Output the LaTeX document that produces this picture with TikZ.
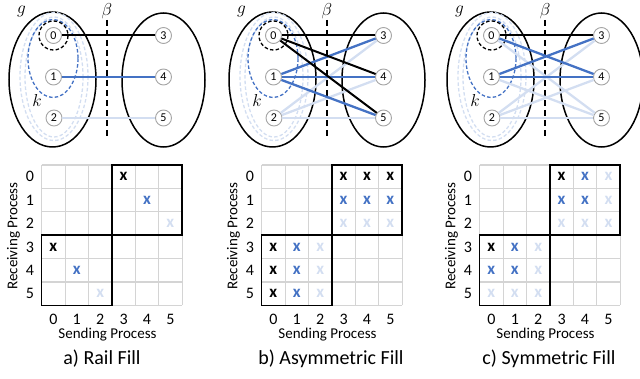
\documentclass[tikz,border=0pt]{standalone}
\usepackage{fontspec}
\setmainfont{Carlito}
\definecolor{railblue}{HTML}{4472C4}
\definecolor{paleblue}{HTML}{D3DEF1}
\definecolor{gridgray}{HTML}{D4D4D4}
\definecolor{procgray}{HTML}{A6A6A6}

% one panel: two process groups, the cut beta and the rank groups g, k
\newcommand{\topology}[1]{%
  \draw[group] (52.5,79.5) ellipse [x radius=43.5, y radius=67.5];
  \draw[group] (163.5,80) ellipse [x radius=41.5, y radius=67];
  \draw[ring, paleblue] (54,76.5) ellipse [x radius=34, y radius=64];
  \draw[ring, paleblue] (54,77) ellipse [x radius=29, y radius=60];
  \draw[ring, railblue] (53,58.5) ellipse [x radius=25, y radius=39];
  \draw[ring, black] (53.5,35.5) circle [radius=14.5];
  \coordinate (#1btop) at (107,20);
  \coordinate (#1bbot) at (107,137);
  \draw[cut] (#1btop) -- (#1bbot);
  \node[mathlbl] (#1beta) at (107,15.5) {$\beta$};
  \node[mathlbl] (#1g) at (21.5,14) {$g$};
  \node[mathlbl] (#1k) at (37,106.5) {$k$};
  \node[proc] (#10) at (53.5,35.5) {0};
  \node[proc] (#11) at (53.5,77) {1};
  \node[proc] (#12) at (54,118) {2};
  \node[proc] (#13) at (163.5,35.5) {3};
  \node[proc] (#14) at (163.5,77) {4};
  \node[proc] (#15) at (163.5,118) {5};
}

% traffic matrix: 6x6 grid, the two inter-group blocks, axis labels, caption
\newcommand{\matrixgrid}[3]{%
  \foreach \i in {0,...,6} {
    \draw[gridline] (41.7+23.4*\i,165) -- (41.7+23.4*\i,305.4);
    \draw[gridline] (41.7,165+23.4*\i) -- (182.1,165+23.4*\i);
  }
  \draw[block] (111.9,165) rectangle (182.1,235.2);
  \draw[block] (41.7,235.2) rectangle (111.9,305.4);
  \foreach \i in {0,...,5} {
    \node[axisnum] (#1row\i) at (30,176.7+23.4*\i) {\i};
    \node[axisnum, anchor=base] (#1col\i) at (53.4+23.4*\i,325) {\i};
  }
  \node[axistitle, anchor=base] (#1send) at (107.5,338.5) {Sending Process};
  \node[axistitle, rotate=90] (#1recv) at (13.5,236) {Receiving Process};
  \node[caption, anchor=base] (#1cap) at (#2,364) {#3};
}

\newcommand{\cellmark}[4]{% prefix, row, column, colour
  \node[xmark, text=#4] (#1m#2#3) at (53.4+23.4*#3,176.7+23.4*#2) {x};
}

\begin{document}
\begin{tikzpicture}[x=1pt,y=-1pt,
  group/.style={draw=black, line width=1.5pt},
  ring/.style={line width=1.3pt, dash pattern=on 3.5pt off 2.2pt},
  cut/.style={draw=black, line width=1.8pt, dash pattern=on 6pt off 4pt},
  proc/.style={circle, draw=procgray, line width=0.9pt, fill=white,
    minimum size=16pt, inner sep=0pt, font=\fontsize{12}{12}\selectfont},
  mathlbl/.style={inner sep=0pt, anchor=base, font=\fontsize{18}{18}\selectfont},
  link/.style={line width=2.3pt},
  blacklink/.style={link, black, line width=2pt},
  bluelink/.style={link, railblue},
  palelink/.style={link, paleblue},
  gridline/.style={draw=gridgray, line width=1.2pt},
  block/.style={draw=black, line width=1.4pt},
  axisnum/.style={inner sep=0pt, font=\fontsize{16}{16}\selectfont},
  axistitle/.style={inner sep=0pt, font=\fontsize{15}{15}\selectfont},
  caption/.style={inner sep=0pt, font=\fontsize{20}{20}\selectfont},
  xmark/.style={inner sep=0pt, font=\fontsize{17}{17}\selectfont\bfseries}]
\useasboundingbox (0,0) rectangle (640,379);

% a) Rail Fill
\begin{scope}
  \topology{a}
  \draw[palelink] (a2) -- (a5);
  \draw[bluelink] (a1) -- (a4);
  \draw[blacklink] (a0) -- (a3);
  \matrixgrid{a}{102}{a) Rail Fill}
  \cellmark{a}{0}{3}{black}
  \cellmark{a}{1}{4}{railblue}
  \cellmark{a}{2}{5}{paleblue}
  \cellmark{a}{3}{0}{black}
  \cellmark{a}{4}{1}{railblue}
  \cellmark{a}{5}{2}{paleblue}
\end{scope}

% b) Asymmetric Fill
\begin{scope}[xshift=220pt]
  \topology{b}
  \foreach \t in {3,4,5} \draw[palelink] (b2) -- (b\t);
  \foreach \t in {3,4,5} \draw[bluelink] (b1) -- (b\t);
  \foreach \t in {3,4,5} \draw[blacklink] (b0) -- (b\t);
  \matrixgrid{b}{111}{b) Asymmetric Fill}
  \foreach \s in {3,4,5} {
    \cellmark{b}{0}{\s}{black}
    \cellmark{b}{1}{\s}{railblue}
    \cellmark{b}{2}{\s}{paleblue}
    \cellmark{b}{\s}{0}{black}
    \cellmark{b}{\s}{1}{railblue}
    \cellmark{b}{\s}{2}{paleblue}
  }
\end{scope}

% c) Symmetric Fill
\begin{scope}[xshift=438pt]
  \topology{c}
  \draw[palelink] (c0) -- (c5);
  \draw[palelink] (c1) -- (c5);
  \foreach \t in {3,4,5} \draw[palelink] (c2) -- (c\t);
  \draw[bluelink] (c0) -- (c4);
  \draw[bluelink] (c1) -- (c3);
  \draw[bluelink] (c1) -- (c4);
  \draw[blacklink] (c0) -- (c3);
  \matrixgrid{c}{111}{c) Symmetric Fill}
  \cellmark{c}{0}{3}{black}
  \cellmark{c}{0}{4}{railblue}
  \cellmark{c}{0}{5}{paleblue}
  \cellmark{c}{1}{3}{railblue}
  \cellmark{c}{1}{4}{railblue}
  \cellmark{c}{1}{5}{paleblue}
  \cellmark{c}{2}{3}{paleblue}
  \cellmark{c}{2}{4}{paleblue}
  \cellmark{c}{2}{5}{paleblue}
  \cellmark{c}{3}{0}{black}
  \cellmark{c}{3}{1}{railblue}
  \cellmark{c}{3}{2}{paleblue}
  \cellmark{c}{4}{0}{railblue}
  \cellmark{c}{4}{1}{railblue}
  \cellmark{c}{4}{2}{paleblue}
  \cellmark{c}{5}{0}{paleblue}
  \cellmark{c}{5}{1}{paleblue}
  \cellmark{c}{5}{2}{paleblue}
\end{scope}
\end{tikzpicture}
\end{document}
